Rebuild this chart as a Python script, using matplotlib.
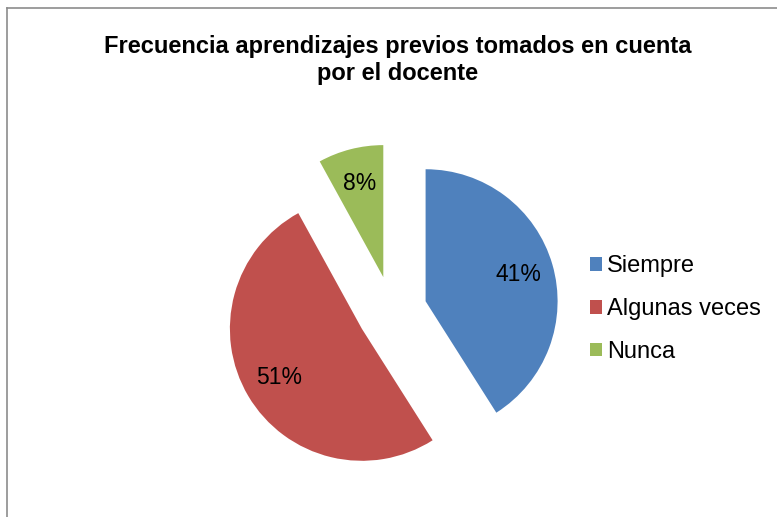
import matplotlib.pyplot as plt
from matplotlib.patches import Patch
from matplotlib.lines import Line2D

plt.rcParams['font.family'] = ['Liberation Sans', 'DejaVu Sans']

# data
labels = ["Siempre", "Algunas veces", "Nunca"]
values = [41, 51, 8]
colors = ["#4F81BD", "#C0504D", "#9BBB59"]
title = "Frecuencia aprendizajes previos tomados en cuenta\npor el docente"

W, H = 777, 517
fig = plt.figure(figsize=(W / 100, H / 100), dpi=100)

# pie centre (pixels from top-left) and radius in pixels
cx, cy, r = 392, 311, 132
half = 1.5 * r
ax = fig.add_axes([(cx - half) / W, (H - cy - half) / H, 2 * half / W, 2 * half / H])
ax.pie(values, colors=colors, startangle=90, counterclock=False,
       explode=[0.265] * 3, radius=1.0, autopct="%d%%", pctdistance=0.73,
       textprops=dict(fontsize=16.5, color="black"))
ax.set_xlim(-1.5, 1.5)
ax.set_ylim(-1.5, 1.5)
ax.set_aspect("auto")
ax.axis("off")

fig.text(398 / W, 1 - 60 / H, title, ha="center", va="center",
         fontsize=17, fontweight="bold", linespacing=1.22)

handles = [Patch(facecolor=c, edgecolor="none") for c in colors]
fig.legend(handles, labels, loc="center left", bbox_to_anchor=(590 / W, 1 - 309 / H),
           frameon=False, fontsize=17, handlelength=0.52, handleheight=0.52,
           handletextpad=0.2, labelspacing=0.88, borderaxespad=0, borderpad=0)

# chart frame (only left and top edges are visible)
fig.add_artist(Line2D([6.5 / W, 6.5 / W], [0, 1 - 8 / H], color="#8c8c8c", lw=1.2,
                      transform=fig.transFigure))
fig.add_artist(Line2D([6.5 / W, 1], [1 - 8 / H, 1 - 8 / H], color="#8c8c8c", lw=1.2,
                      transform=fig.transFigure))

fig.savefig("out.png", dpi=100)
